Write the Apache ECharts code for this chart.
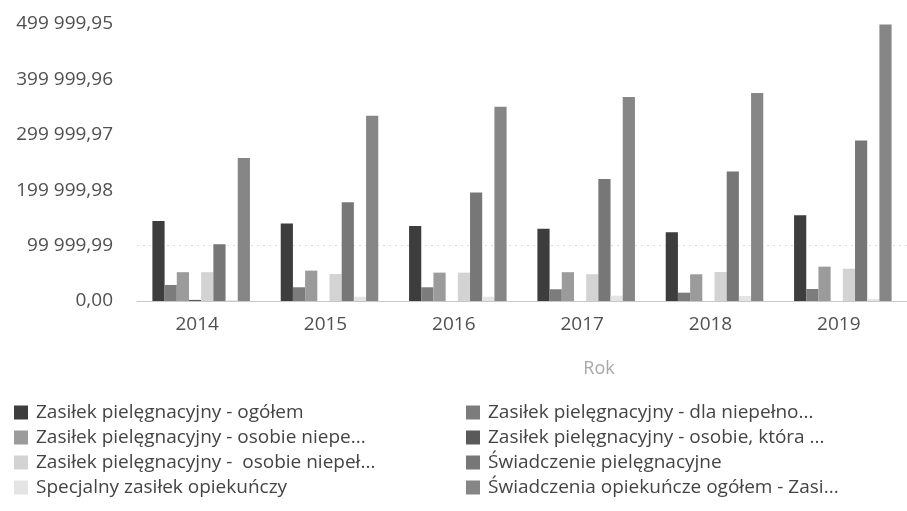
<!DOCTYPE html>
<html>
<head>
<meta charset="utf-8">
<script src="https://cdn.jsdelivr.net/npm/echarts@6/dist/echarts.min.js"></script>
<style>
  html, body { margin: 0; padding: 0; background: #ffffff; }
  #chart { width: 907px; height: 511px; }
</style>
</head>
<body>
<div id="chart"></div>
<script>
// Years on the category axis
const years = ['2014', '2015', '2016', '2017', '2018', '2019'];

// Series names as shown in the legend
const seriesNames = [
  'Zasiłek pielęgnacyjny - ogółem',
  'Zasiłek pielęgnacyjny - dla niepełno...',
  'Zasiłek pielęgnacyjny - osobie niepe...',
  'Zasiłek pielęgnacyjny - osobie, która ...',
  'Zasiłek pielęgnacyjny -  osobie niepeł...',
  'Świadczenie pielęgnacyjne',
  'Specjalny zasiłek opiekuńczy',
  'Świadczenia opiekuńcze ogółem - Zasi...'
];

// Values per series, one per year
const zpOgolem        = [144600, 139800, 135600, 130200, 124200, 154900];
const zpDzieci        = [29000, 24800, 24800, 21200, 15000, 21700];
const zpZnaczny       = [52000, 54800, 51200, 52000, 48200, 62000];
const zp75            = [2000, 0, 0, 0, 0, 0];
const zpUmiarkowany   = [52000, 48800, 51200, 48300, 52400, 58400];
const swPielegnacyjne = [102500, 178400, 195800, 220000, 233800, 289800];
const specjalny       = [1500, 7800, 7800, 9600, 9000, 3600];
const swOgolem        = [258000, 334500, 350700, 368300, 375500, 499000];

// Value axis range and step
const axisMax = 499999.95;
const axisStep = 99999.99;

const seriesValues = [zpOgolem, zpDzieci, zpZnaczny, zp75, zpUmiarkowany, swPielegnacyjne, specjalny, swOgolem];
const seriesColors = ['#3d3d3d', '#7c7c7c', '#9b9b9b', '#5a5a5a', '#d3d3d3', '#777777', '#e4e4e4', '#868686'];

const FONT = '"Open Sans", "DejaVu Sans", sans-serif';

// Polish number format: space thousands separator, comma decimal
function plFormat(v) {
  const s = v.toFixed(2);
  const parts = s.split('.');
  const intPart = parts[0].replace(/\B(?=(\d{3})+(?!\d))/g, ' ');
  return intPart + ',' + parts[1];
}

const chart = echarts.init(document.getElementById('chart'), null, { renderer: 'canvas' });

const legendCommon = {
  orient: 'vertical',
  top: 398,
  itemWidth: 14,
  itemHeight: 14,
  itemGap: 6,
  icon: 'rect',
  textStyle: { fontFamily: FONT, fontSize: 19, color: '#444444', lineHeight: 19, padding: [0, 0, 0, 3] },
  inactiveColor: '#ccc'
};

const option = {
  backgroundColor: '#ffffff',
  animation: false,
  title: {
    text: 'Rok',
    left: 594,
    top: 355,
    textAlign: 'center',
    textStyle: { fontFamily: FONT, fontSize: 18, fontWeight: 'normal', color: '#a8a8a8' }
  },
  legend: [
    Object.assign({ left: 9, data: [seriesNames[0], seriesNames[2], seriesNames[4], seriesNames[6]] }, legendCommon),
    Object.assign({ left: 461, data: [seriesNames[1], seriesNames[3], seriesNames[5], seriesNames[7]] }, legendCommon)
  ],
  grid: { left: 137, top: 24, width: 781, height: 277, containLabel: false },
  xAxis: {
    type: 'category',
    data: years,
    axisLine: { lineStyle: { color: '#c8c8c8', width: 1 } },
    axisTick: { show: false },
    axisLabel: { fontFamily: FONT, fontSize: 19, color: '#505050', margin: 14, padding: [0, 8, 0, 0] },
    splitLine: { show: false }
  },
  yAxis: {
    type: 'value',
    min: 0,
    max: axisMax,
    interval: axisStep,
    axisLine: { show: false },
    axisTick: { show: false },
    axisLabel: { fontFamily: FONT, fontSize: 19, color: '#505050', margin: 24, formatter: plFormat },
    splitLine: {
      show: true,
      lineStyle: {
        type: [2, 4],
        width: 1,
        color: ['rgba(0,0,0,0)', '#dddddd', 'rgba(0,0,0,0)', 'rgba(0,0,0,0)', 'rgba(0,0,0,0)', 'rgba(0,0,0,0)']
      }
    }
  },
  series: seriesNames.map((name, i) => ({
    name: name,
    type: 'bar',
    data: seriesValues[i],
    barGap: '0%',
    barCategoryGap: '24%',
    itemStyle: { color: seriesColors[i] }
  }))
};

chart.setOption(option);
</script>
</body>
</html>
